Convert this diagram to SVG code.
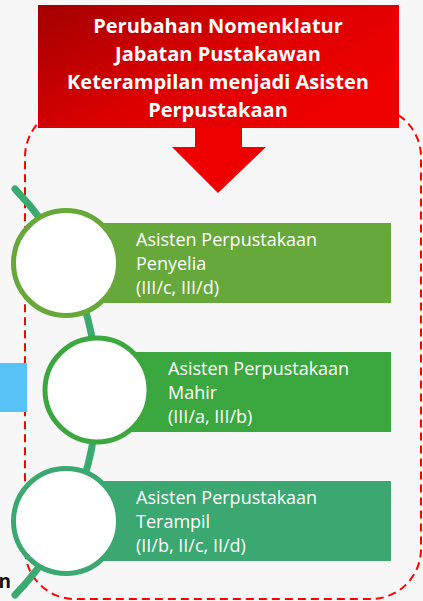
<svg xmlns="http://www.w3.org/2000/svg" width="423" height="601" viewBox="0 0 423 601">
<defs>
<linearGradient id="redg" x1="0" y1="0" x2="1" y2="0.6">
<stop offset="0" stop-color="#a30000"/>
<stop offset="0.55" stop-color="#dc0000"/>
<stop offset="1" stop-color="#ee0000"/>
</linearGradient>
<style>
.title{font-family:"Open Sans","Noto Sans",sans-serif;font-weight:bold;font-size:20px;fill:#fff;text-anchor:middle}
.lbl{font-family:"Open Sans","Noto Sans",sans-serif;font-size:18px;fill:#fff}
.ring{fill:#fff;stroke-width:5}
</style>
</defs>
<rect x="0" y="0" width="423" height="601" fill="#f7f7f7"/>
<g id="boundary">
<rect x="25" y="107" width="396" height="492" rx="50" ry="50" fill="none" stroke="#ff0000" stroke-width="2" stroke-dasharray="8 5"/>
</g>
<g id="side-box">
<rect x="0" y="363" width="27" height="49" fill="#55c3f5"/>
<text x="11" y="588" font-family="'Open Sans','Noto Sans',sans-serif" font-weight="bold" font-size="19" fill="#111" text-anchor="end">n</text>
</g>
<g id="connectors">
<path d="M15,189 A292,292 0 0 1 15,595" fill="none" stroke="#3aaa70" stroke-width="7" stroke-linecap="round"/>
</g>
<g id="title">
<rect x="38" y="5" width="361" height="123" fill="url(#redg)"/>
<text class="title" x="218" y="33">Perubahan Nomenklatur</text>
<text class="title" x="218" y="61">Jabatan Pustakawan</text>
<text class="title" x="218" y="89">Keterampilan menjadi Asisten</text>
<text class="title" x="218" y="117">Perpustakaan</text>
</g>
<g id="arrow">
<polygon points="195,128 242,128 242,147 266,147 218,193 172,147 195,147" fill="#ee0000"/>
</g>
<g id="node-penyelia">
<rect x="66" y="223" width="325" height="80" fill="#66a83a"/>
<circle class="ring" cx="66" cy="263" r="52.5" stroke="#66a83a"/>
<text class="lbl" x="136" y="246">Asisten Perpustakaan</text>
<text class="lbl" x="136" y="270">Penyelia</text>
<text class="lbl" x="136" y="294">(III/c, III/d)</text>
</g>
<g id="node-mahir">
<rect x="97" y="352" width="294" height="80" fill="#3aa83e"/>
<circle class="ring" cx="97" cy="390" r="52" stroke="#3aa83e"/>
<text class="lbl" x="168" y="375">Asisten Perpustakaan</text>
<text class="lbl" x="168" y="399">Mahir</text>
<text class="lbl" x="168" y="423">(III/a, III/b)</text>
</g>
<g id="node-terampil">
<rect x="66" y="481" width="325" height="80" fill="#3aa870"/>
<circle class="ring" cx="66" cy="521" r="52.5" stroke="#3aa870"/>
<text class="lbl" x="136" y="504">Asisten Perpustakaan</text>
<text class="lbl" x="136" y="528">Terampil</text>
<text class="lbl" x="136" y="552">(II/b, II/c, II/d)</text>
</g>
</svg>
